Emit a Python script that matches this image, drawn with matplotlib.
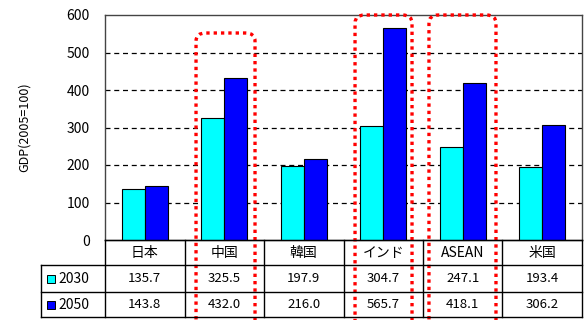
import matplotlib
matplotlib.use("Agg")
import matplotlib.pyplot as plt
from matplotlib.patches import FancyBboxPatch, Rectangle
from matplotlib.lines import Line2D

plt.rcParams['font.family'] = ['Noto Sans CJK JP', 'DejaVu Sans']

categories = ['日本', '中国', '韓国', 'インド', 'ASEAN', '米国']
series_names = ['2030', '2050']
v2030 = [135.7, 325.5, 197.9, 304.7, 247.1, 193.4]
v2050 = [143.8, 432.0, 216.0, 565.7, 418.1, 306.2]
yticks = [0, 100, 200, 300, 400, 500, 600]
ylabel = 'GDP(2005=100)'
colors = ['#00FFFF', '#0000FF']

W, H = 585, 320
fig = plt.figure(figsize=(W / 100, H / 100), dpi=100)
axL, axR, axT, axB = 105, 582, 15, 240
ax = fig.add_axes([axL / W, 1 - axB / H, (axR - axL) / W, (axB - axT) / H])

n = len(categories)
xs = list(range(n))
bw = 0.29
ax.bar([x - bw / 2 for x in xs], v2030, bw, color=colors[0], edgecolor='black', linewidth=0.8, zorder=3)
ax.bar([x + bw / 2 for x in xs], v2050, bw, color=colors[1], edgecolor='black', linewidth=0.8, zorder=3)
ax.set_xlim(-0.5, n - 0.5)
ax.set_ylim(0, 600)
ax.set_yticks(yticks)
ax.set_yticklabels([str(t) for t in yticks], fontsize=10)
ax.tick_params(axis='y', length=0, pad=11)
ax.set_xticks([])
for t in yticks[1:-1]:
    ax.axhline(t, color='black', linestyle=(0, (4, 3)), linewidth=0.9, zorder=1)
for s in ax.spines.values():
    s.set_color('#444444')
    s.set_linewidth(1.0)
ax.set_ylabel(ylabel, fontsize=9, labelpad=26)

# table drawn in figure pixel coords
def fx(px):
    return px / W

def fy(py):
    return 1 - py / H

col_w = (axR - axL) / n
rows_y = [240, 265, 292, 317]
lc = dict(color='black', linewidth=1.0, transform=fig.transFigure)
fig.add_artist(Line2D([fx(axL), fx(axR)], [fy(240), fy(240)], **lc))
for y in rows_y[1:]:
    fig.add_artist(Line2D([fx(41), fx(axR)], [fy(y), fy(y)], **lc))
for i in range(n + 1):
    x = axL + i * col_w
    fig.add_artist(Line2D([fx(x), fx(x)], [fy(240), fy(317)], **lc))
fig.add_artist(Line2D([fx(41), fx(41)], [fy(265), fy(317)], **lc))

for i, c in enumerate(categories):
    cx = axL + (i + 0.5) * col_w
    fig.text(fx(cx), fy(253), c, ha='center', va='center', fontsize=10)
    fig.text(fx(cx), fy(279), f'{v2030[i]:.1f}', ha='center', va='center', fontsize=9.5)
    fig.text(fx(cx), fy(305), f'{v2050[i]:.1f}', ha='center', va='center', fontsize=9.5)

for j, (name, yc) in enumerate(zip(series_names, [279, 305])):
    fig.add_artist(Rectangle((fx(47), fy(yc + 4)), 8 / W, 8 / H, facecolor=colors[j],
                             edgecolor='black', linewidth=0.7, transform=fig.transFigure))
    fig.text(fx(58), fy(yc), name, ha='left', va='center', fontsize=10)

# red dotted highlight boxes (data coords)
boxes = [(0.645, 1.387, 552), (2.645, 3.362, 600), (3.575, 4.418, 600)]
for x0, x1, top in boxes:
    p = FancyBboxPatch((x0, -260), x1 - x0, top + 260,
                       boxstyle='round,pad=0,rounding_size=0.12',
                       mutation_aspect=180,
                       fill=False, edgecolor='#FF0000', linestyle=(0, (1, 1.2)),
                       linewidth=2.4, clip_on=False, zorder=5)
    ax.add_patch(p)

fig.savefig('out.png', dpi=100)
